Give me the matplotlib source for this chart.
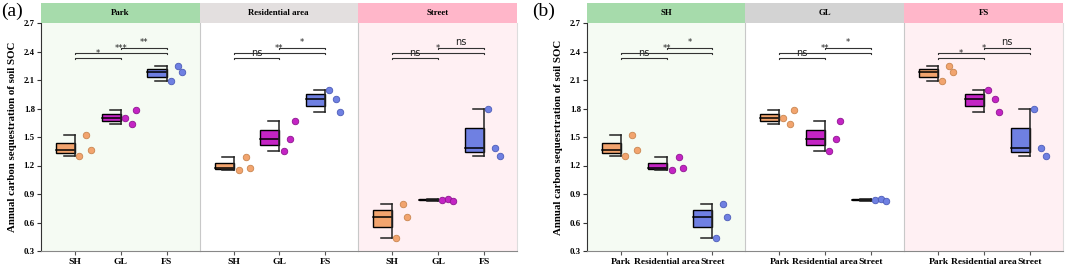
"""Half box plots of annual carbon sequestration of soil SOC, two faceted panels."""
import numpy as np
import matplotlib
matplotlib.use("Agg")
import matplotlib.pyplot as plt

W, H = 1065, 265

SITES = ["Park", "Residential area", "Street"]
VEGS = ["SH", "GL", "FS"]

# three replicate values per vegetation type, one list per site
SH_VALS = [[1.52, 1.30, 1.36], [1.29, 1.15, 1.17], [0.80, 0.66, 0.44]]
GL_VALS = [[1.78, 1.70, 1.64], [1.67, 1.48, 1.35], [0.84, 0.85, 0.83]]
FS_VALS = [[2.25, 2.18, 2.09], [2.00, 1.90, 1.76], [1.80, 1.38, 1.30]]

# significance labels for pairs (0-1, 0-2, 1-2) within each facet
SIG_A = [["*", "***", "**"], ["ns", "**", "*"], ["ns", "*", "ns"]]
SIG_B = [["ns", "**", "*"], ["ns", "**", "*"], ["*", "*", "ns"]]

YTICKS = [0.3, 0.6, 0.9, 1.2, 1.5, 1.8, 2.1, 2.4, 2.7]

# point jitter (x offsets), same layout as VALS
JIT = {
    "SH": [[0.24, 0.09, 0.35], [0.26, 0.11, 0.35], [0.24, 0.33, 0.09]],
    "GL": [[0.33, 0.09, 0.24], [0.33, 0.24, 0.09], [0.09, 0.22, 0.33]],
    "FS": [[0.24, 0.33, 0.09], [0.09, 0.24, 0.33], [0.09, 0.24, 0.35]],
}

FILL = ["#F2A46E", "#C424C4", "#6F80E2"]
EDGE = ["#C98650", "#8E1590", "#4C5CB8"]
HEAD_A = ["#A6DBAB", "#E3DFDF", "#FFB6C9"]
HEAD_B = ["#A6DBAB", "#D3D3D3", "#FFB6C9"]
BODY = ["#F5FBF3", "#FFFFFF", "#FFF0F3"]

SERIF = "Liberation Serif"
VALS = {"SH": SH_VALS, "GL": GL_VALS, "FS": FS_VALS}


def half_box(ax, x, vals, color):
    v = np.array(vals)
    q1, med, q3 = np.percentile(v, [25, 50, 75])
    lo, hi = v.min(), v.max()
    bw, cw = 0.42, 0.25
    ax.add_patch(plt.Rectangle((x - bw, q1), bw, q3 - q1, facecolor=color,
                               edgecolor="black", lw=1.0, zorder=3))
    ax.plot([x - bw, x], [med, med], color="black", lw=1.1, zorder=4)
    ax.plot([x, x], [lo, hi], color="#222222", lw=1.1, zorder=4)
    ax.plot([x - cw, x], [lo, lo], color="#222222", lw=1.1, zorder=4)
    ax.plot([x - cw, x], [hi, hi], color="#222222", lw=1.1, zorder=4)


def sig(ax, x1, x2, y, label):
    t = 0.012
    ax.plot([x1, x1, x2, x2], [y - t, y, y, y - t], color="#333333", lw=0.8, zorder=5)
    ax.text((x1 + x2) / 2, y + 0.003, label, ha="center", va="bottom",
            fontsize=7 if label == "ns" else 6, family="DejaVu Sans", color="#222222",
            zorder=6)


def panel(fig, edges, facet_names, xcats, heads, sigs, get_vals, get_jit, ylabel, tag, tag_x):
    y0, y1 = 251, 23
    for f, name in enumerate(facet_names):
        l, r = edges[f], edges[f + 1]
        ax = fig.add_axes([l / W, (H - y0) / H, (r - l) / W, (y0 - y1) / H])
        ax.set_facecolor(BODY[f])
        ax.set_xlim(-0.75, 2.72)
        ax.set_ylim(0.3, 2.7)
        for i in range(3):
            vals = get_vals(f, i)
            half_box(ax, i, vals, FILL[i])
            ax.scatter([i + j for j in get_jit(f, i)], vals, s=22, c=FILL[i],
                       edgecolors=EDGE[i], linewidths=0.6, zorder=5)
        for (a, b), lab, yy in zip([(0, 1), (0, 2), (1, 2)], sigs[f], [2.33, 2.385, 2.44]):
            sig(ax, a, b, yy, lab)
        ax.set_xticks(range(3))
        ax.set_xticklabels(xcats, family=SERIF, fontweight="bold", fontsize=6.8)
        ax.tick_params(axis="x", length=3, color="#555555", pad=2)
        for s in ("top", "right"):
            ax.spines[s].set_visible(False)
        ax.spines["bottom"].set_color("#888888")
        if f == 0:
            ax.set_yticks(YTICKS)
            ax.set_yticklabels([f"{t:.1f}" for t in YTICKS], family=SERIF,
                               fontweight="bold", fontsize=6.3)
            ax.tick_params(axis="y", length=3, color="#333333", pad=1.5)
            ax.spines["left"].set_color("#333333")
            ax.set_ylabel(ylabel, family=SERIF, fontweight="bold", fontsize=7.8, labelpad=5)
        else:
            ax.set_yticks([])
            ax.spines["left"].set_color("#C8C8C8")
        if f == 2:
            ax.spines["right"].set_visible(True)
            ax.spines["right"].set_color("#DDDDDD")
        hx = fig.add_axes([l / W, (H - y1) / H, (r - l) / W, 20.5 / H])
        hx.set_facecolor(heads[f])
        hx.set_xticks([]); hx.set_yticks([])
        for s in hx.spines.values():
            s.set_visible(False)
        hx.text(0.5, 0.5, name, ha="center", va="center", family=SERIF,
                fontweight="bold", fontsize=6.3, transform=hx.transAxes)
    fig.text(tag_x / W, (H - 11) / H, tag, family=SERIF, fontsize=14,
             ha="left", va="center")


fig = plt.figure(figsize=(W / 100, H / 100), dpi=100)
fig.patch.set_facecolor("white")

panel(fig, [41, 199.5, 358, 517], SITES, VEGS, HEAD_A, SIG_A,
      lambda f, i: VALS[VEGS[i]][f], lambda f, i: JIT[VEGS[i]][f],
      "Annual carbon sequestration of soil SOC", "(a)", 1)
panel(fig, [587, 745, 904, 1063], VEGS, SITES, HEAD_B, SIG_B,
      lambda f, i: VALS[VEGS[f]][i], lambda f, i: JIT[VEGS[f]][i],
      "Annual carbon sequesrtration of soil SOC", "(b)", 532)

fig.savefig("out.png", dpi=100)
